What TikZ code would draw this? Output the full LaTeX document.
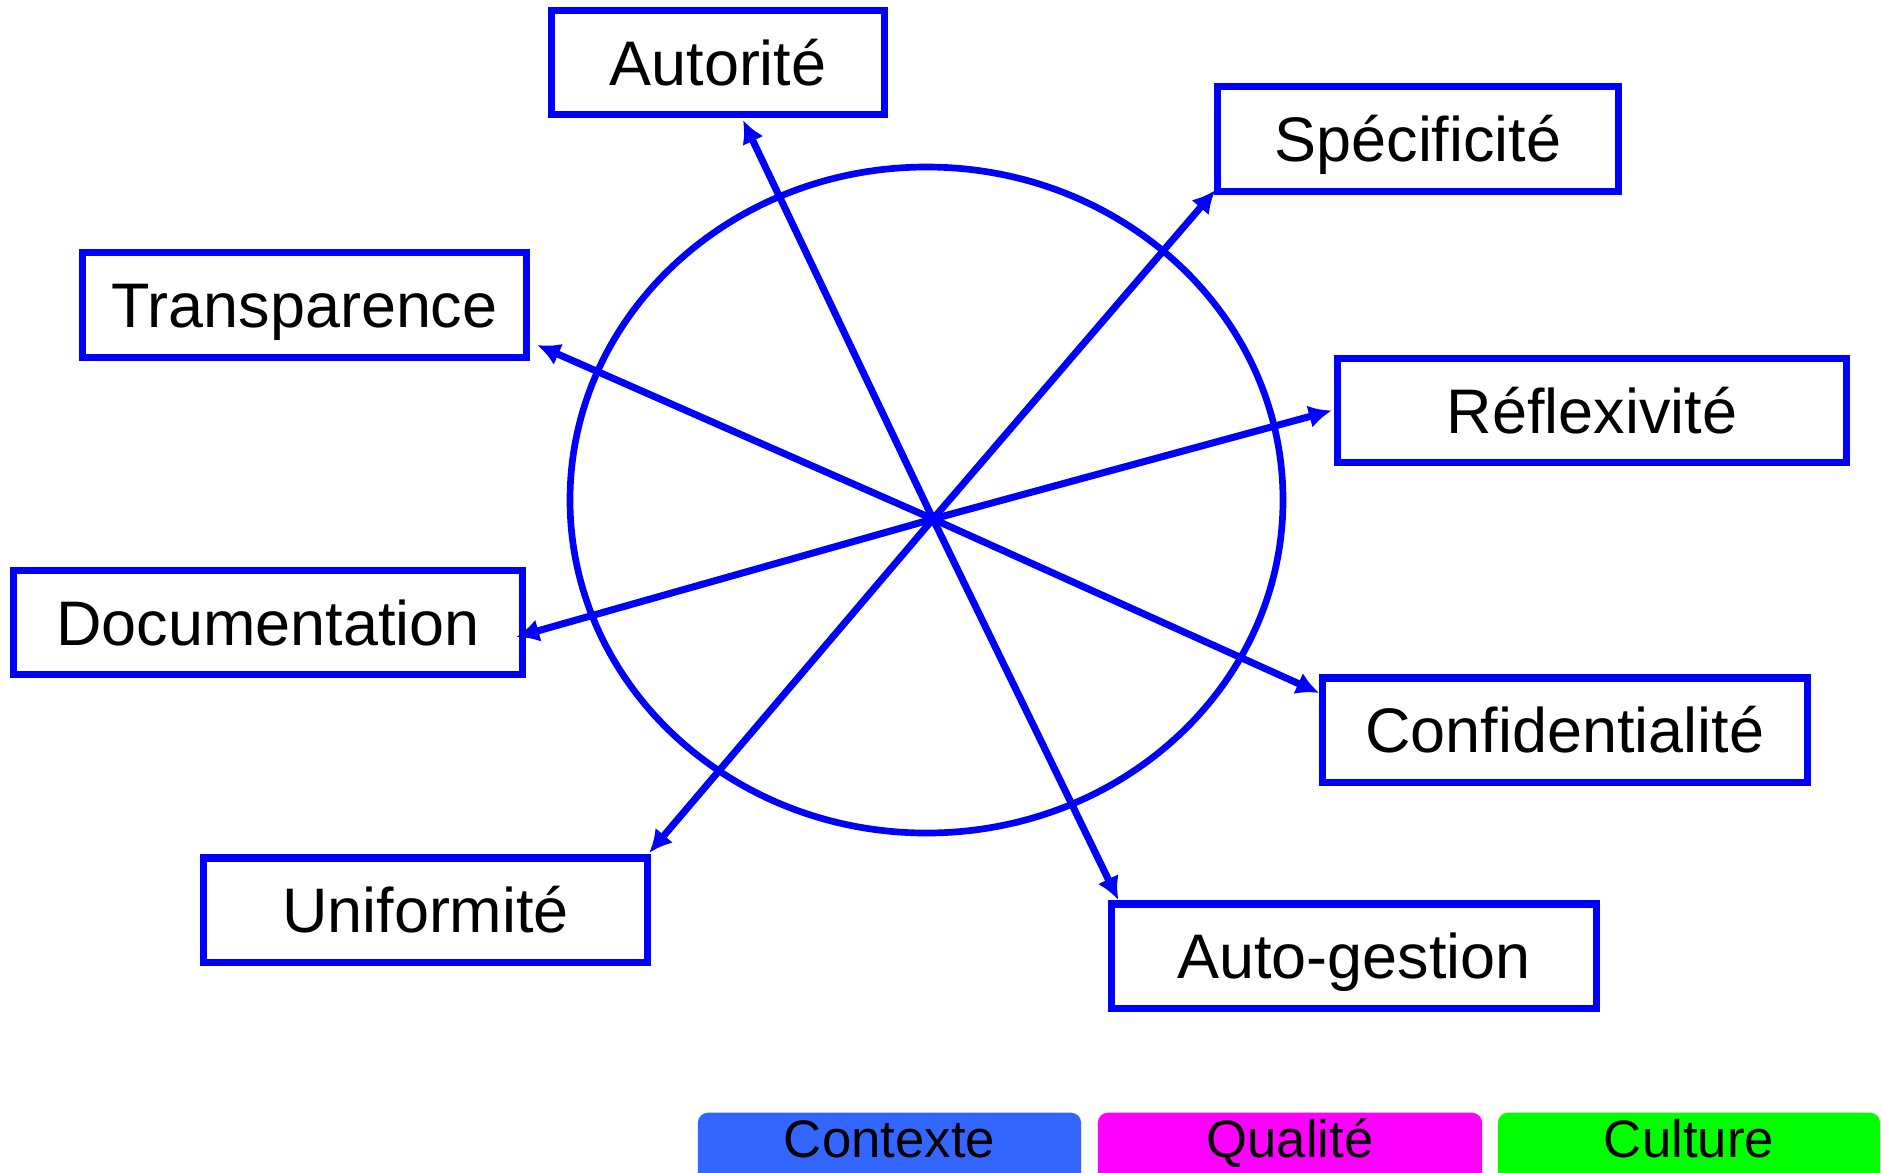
\documentclass[tikz,border=0pt]{standalone}
\usepackage{fontspec}
\setmainfont{Liberation Sans}
\usetikzlibrary{arrows.meta,calc}
\definecolor{ctxblue}{HTML}{3366FF}
\definecolor{qualmag}{HTML}{FF00FF}
\definecolor{cultgreen}{HTML}{00FF00}
\tikzset{>={Latex[length=2.3mm,width=2.3mm]}}
\tikzstyle{facet}=[rectangle,draw=blue,line width=2pt,fill=white,minimum height=1.04cm,inner sep=0pt,outer sep=0pt,font=\fontsize{17.9}{20}\selectfont,text height=12.8pt,text depth=0pt]
\tikzstyle{spoke}=[->,draw=blue,line width=2pt]
\tikzstyle{legend}=[rectangle,rounded corners=1mm,minimum height=0.8cm,inner sep=0pt,anchor=north,font=\fontsize{15}{18}\selectfont,text height=10.7pt,text depth=7.85pt]

\begin{document}
\begin{tikzpicture}[x=0.01cm,y=-0.01cm]
    \useasboundingbox (0,0) rectangle (1881,1172);

    \draw[blue,line width=1.9pt] (926.5,500) ellipse [x radius=356.5,y radius=333];
    \coordinate (hub) at (933,519);

    \foreach \n/\px/\py/\w/\t in {aut/718/62.5/3.33/Autorité,
        spe/1418/139/4.01/Spécificité,
        tra/304.5/305/4.43/Transparence,
        ref/1592/410.5/5.08/Réflexivité,
        doc/268/622.5/5.08/Documentation,
        con/1565/730/4.85/Confidentialité,
        uni/425.5/910/4.43/Uniformité,
        ag/1354/956/4.85/Auto-gestion} {
        \node[facet,minimum width=\w cm] (\n) at (\px,\py) {\t};
    };

    \foreach \n/\a/\dx/\dy in {aut/south/25/5.5, spe/south west/-2/-1,
        tra/east/11/40, ref/west/-6/0, doc/east/-6/14.5,
        con/north west/-3/15, uni/north east/2/-5, ag/north west/7/-4} {
        \draw[spoke] (hub) -- ($(\n.\a)+(\dx,\dy)$);
    };

    % legend
    \node[legend,fill=ctxblue,minimum width=3.83cm] (ctx) at (889.5,1112) {Contexte};
    \node[legend,fill=qualmag,minimum width=3.84cm] (qual) at (1290,1112) {Qualité};
    \node[legend,fill=cultgreen,minimum width=3.82cm] (cult) at (1689,1112) {Culture};
\end{tikzpicture}
\end{document}
